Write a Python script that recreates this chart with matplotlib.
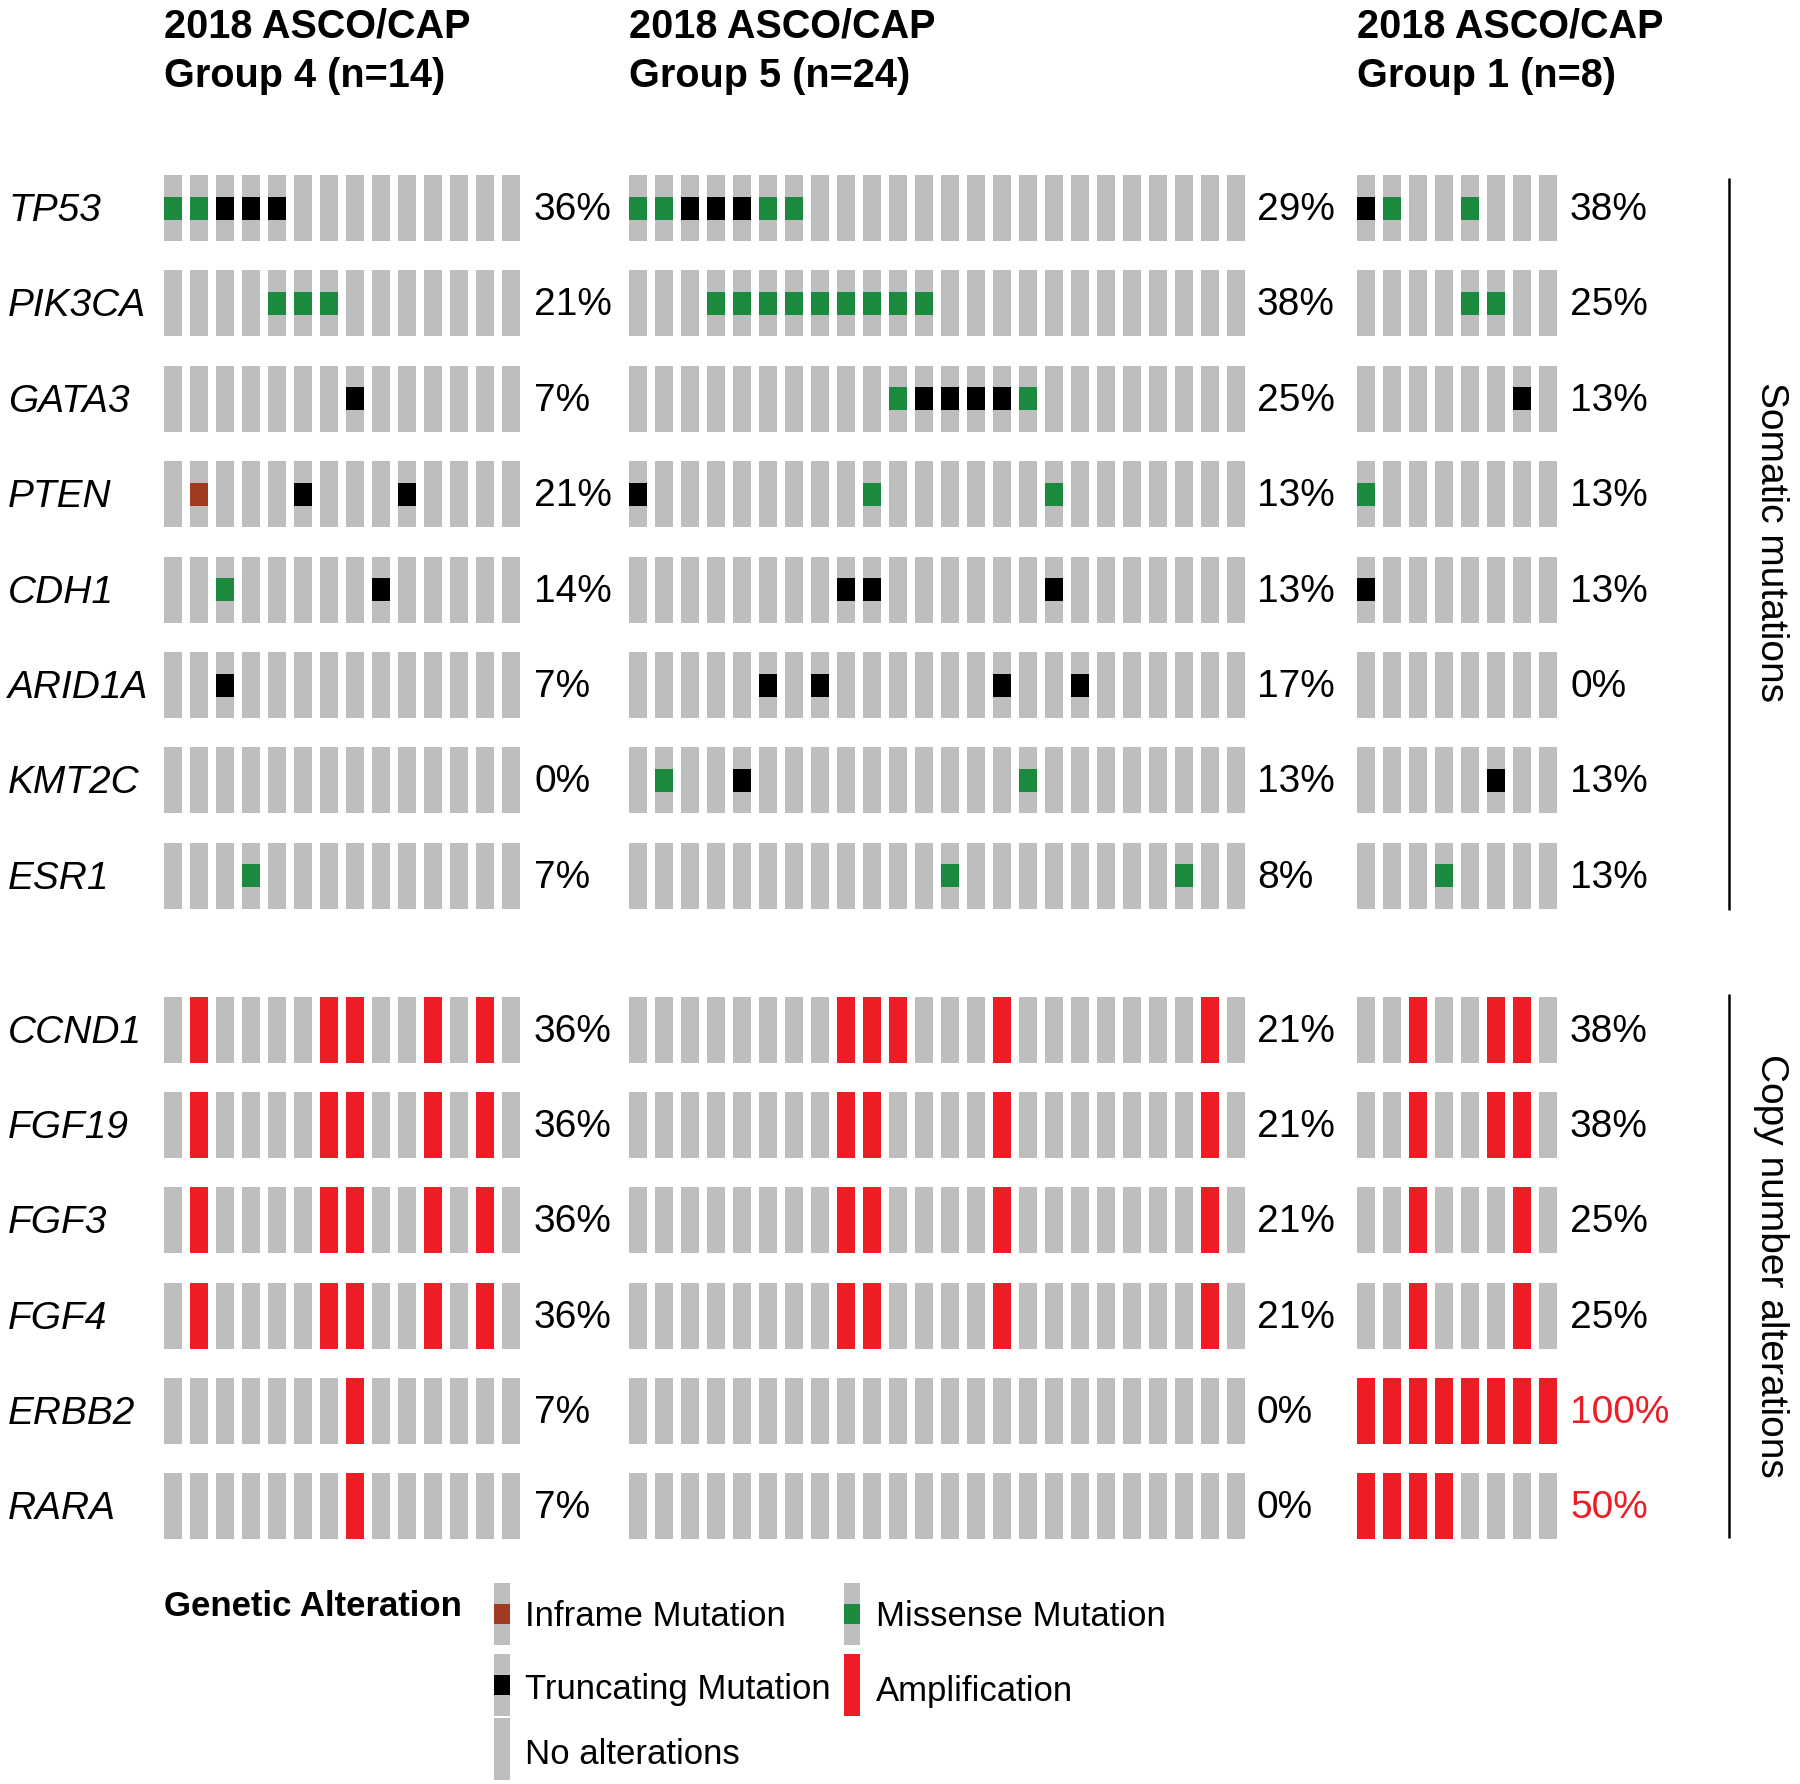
import matplotlib
matplotlib.use("Agg")
import matplotlib.pyplot as plt
from matplotlib.patches import Rectangle

plt.rcParams['font.family'] = ['Liberation Sans', 'DejaVu Sans']

# ---------------- data ----------------
genes_mut = ["TP53", "PIK3CA", "GATA3", "PTEN", "CDH1", "ARID1A", "KMT2C", "ESR1"]
genes_cna = ["CCND1", "FGF19", "FGF3", "FGF4", "ERBB2", "RARA"]

group_titles = ["2018 ASCO/CAP\nGroup 4 (n=14)",
                "2018 ASCO/CAP\nGroup 5 (n=24)",
                "2018 ASCO/CAP\nGroup 1 (n=8)"]
group_sizes = [14, 24, 8]

# M = missense, T = truncating, I = inframe, . = none
g4_mut = ["MMTTT.........",
          "....MMM.......",
          ".......T......",
          ".I...T...T....",
          "..M.....T.....",
          "..T...........",
          "..............",
          "...M.........."]
g5_mut = ["MMTTTMM.................",
          "...MMMMMMMMM............",
          "..........MTTTTM........",
          "T........M......M.......",
          "........TT......T.......",
          ".....T.T......T..T......",
          ".M..T..........M........",
          "............M........M.."]
g1_mut = ["TM..M...",
          "....MM..",
          "......T.",
          "M.......",
          "T.......",
          "........",
          ".....T..",
          "...M...."]

# A = amplification
g4_cna = [".A....AA..A.A.",
          ".A....AA..A.A.",
          ".A....AA..A.A.",
          ".A....AA..A.A.",
          ".......A......",
          ".......A......"]
g5_cna = ["........AAA...A.......A.",
          "........AA....A.......A.",
          "........AA....A.......A.",
          "........AA....A.......A.",
          "........................",
          "........................"]
g1_cna = ["..A..AA.",
          "..A..AA.",
          "..A...A.",
          "..A...A.",
          "AAAAAAAA",
          "AAAA...."]

pct_g4 = ["36%", "21%", "7%", "21%", "14%", "7%", "0%", "7%",
          "36%", "36%", "36%", "36%", "7%", "7%"]
pct_g5 = ["29%", "38%", "25%", "13%", "13%", "17%", "13%", "8%",
          "21%", "21%", "21%", "21%", "0%", "0%"]
pct_g1 = ["38%", "25%", "13%", "13%", "13%", "0%", "13%", "13%",
          "38%", "38%", "25%", "25%", "100%", "50%"]
pct_red_g1 = [False] * 12 + [True, True]

legend_labels = ["Inframe Mutation", "Missense Mutation", "Truncating Mutation",
                 "Amplification", "No alterations"]

# ---------------- style ----------------
C_GRAY = "#BEBEBE"
C_GREEN = "#1B8A3E"
C_BLACK = "#000000"
C_BROWN = "#A13A20"
C_RED = "#EE1C25"
colors = {"M": C_GREEN, "T": C_BLACK, "I": C_BROWN, "A": C_RED}

W, H = 1800, 1784
fig = plt.figure(figsize=(W / 100, H / 100), dpi=100)
ax = fig.add_axes([0, 0, 1, 1])
ax.set_xlim(0, W)
ax.set_ylim(H, 0)
ax.axis("off")

group_x0 = [164, 629, 1357]
pct_x = [534, 1257, 1570]
pitch = 26.0
bar_w = 17.7
bar_h = 66
mark_h = 23

y_mut = [208 + i * 95.4 for i in range(len(genes_mut))]
y_cna = [1030 + i * 95.2 for i in range(len(genes_cna))]

mut_data = [g4_mut, g5_mut, g1_mut]
cna_data = [g4_cna, g5_cna, g1_cna]
pct_data = [pct_g4, pct_g5, pct_g1]

FS = 28

for g in range(3):
    n = group_sizes[g]
    xs = [group_x0[g] + k * pitch for k in range(n)]
    # mutation rows
    for r, row in enumerate(mut_data[g]):
        yc = y_mut[r]
        ax.bar(xs, [bar_h] * n, width=bar_w, bottom=yc - bar_h / 2,
               align="edge", color=C_GRAY, linewidth=0)
        for k, ch in enumerate(row):
            if ch != ".":
                ax.bar(xs[k] - 0.5, mark_h, width=bar_w + 1, bottom=yc - mark_h / 2,
                       align="edge", color=colors[ch], linewidth=0)
    # CNA rows
    for r, row in enumerate(cna_data[g]):
        yc = y_cna[r]
        cols = [colors["A"] if ch == "A" else C_GRAY for ch in row]
        ax.bar(xs, [bar_h] * n, width=bar_w, bottom=yc - bar_h / 2,
               align="edge", color=cols, linewidth=0)
    # percentages
    all_y = y_mut + y_cna
    for r, txt in enumerate(pct_data[g]):
        col = C_RED if (g == 2 and pct_red_g1[r]) else "black"
        ax.text(pct_x[g], all_y[r] + 2, txt, fontsize=FS, color=col,
                ha="left", va="center")
    # titles
    l1, l2 = group_titles[g].split("\n")
    ax.text(group_x0[g], 27, l1, fontsize=28.5, fontweight="bold", ha="left", va="center")
    ax.text(group_x0[g], 76, l2, fontsize=28.5, fontweight="bold", ha="left", va="center")

# gene labels
for r, gname in enumerate(genes_mut):
    ax.text(8, y_mut[r] + 3, gname, fontsize=FS, style="italic", ha="left", va="center")
for r, gname in enumerate(genes_cna):
    ax.text(8, y_cna[r] + 3, gname, fontsize=FS, style="italic", ha="left", va="center")

# side brackets
ax.plot([1729, 1729], [178, 910], color="black", lw=1.8, solid_capstyle="butt")
ax.plot([1729, 1729], [994, 1538], color="black", lw=1.8, solid_capstyle="butt")
ax.text(1771, 542, "Somatic mutations", fontsize=FS, rotation=-90,
        ha="center", va="center")
ax.text(1771, 1266, "Copy number alterations", fontsize=FS, rotation=-90,
        ha="center", va="center")

# legend
LFS = 25
ax.text(164, 1606, "Genetic Alteration", fontsize=LFS, fontweight="bold",
        ha="left", va="center")
leg_items = [  # (label index, glyph x, glyph center y, text x, text y, kind)
    (0, 494, 1614, 525, 1617, "I"),
    (1, 844, 1614, 876, 1617, "M"),
    (2, 494, 1685, 525, 1690, "T"),
    (3, 844, 1685, 876, 1692, "A"),
    (4, 494, 1749, 525, 1755, "."),
]
gh = 62
gw = 16
for idx, gx, gy, tx, ty, kind in leg_items:
    if kind == "A":
        ax.add_patch(Rectangle((gx, gy - gh / 2), gw, gh, color=C_RED, lw=0))
    else:
        ax.add_patch(Rectangle((gx, gy - gh / 2), gw, gh, color=C_GRAY, lw=0))
        if kind != ".":
            ax.add_patch(Rectangle((gx, gy - 10), gw, 20, color=colors[kind], lw=0))
    ax.text(tx, ty, legend_labels[idx], fontsize=LFS, ha="left", va="center")

fig.savefig("out.png", dpi=100, facecolor="white")
